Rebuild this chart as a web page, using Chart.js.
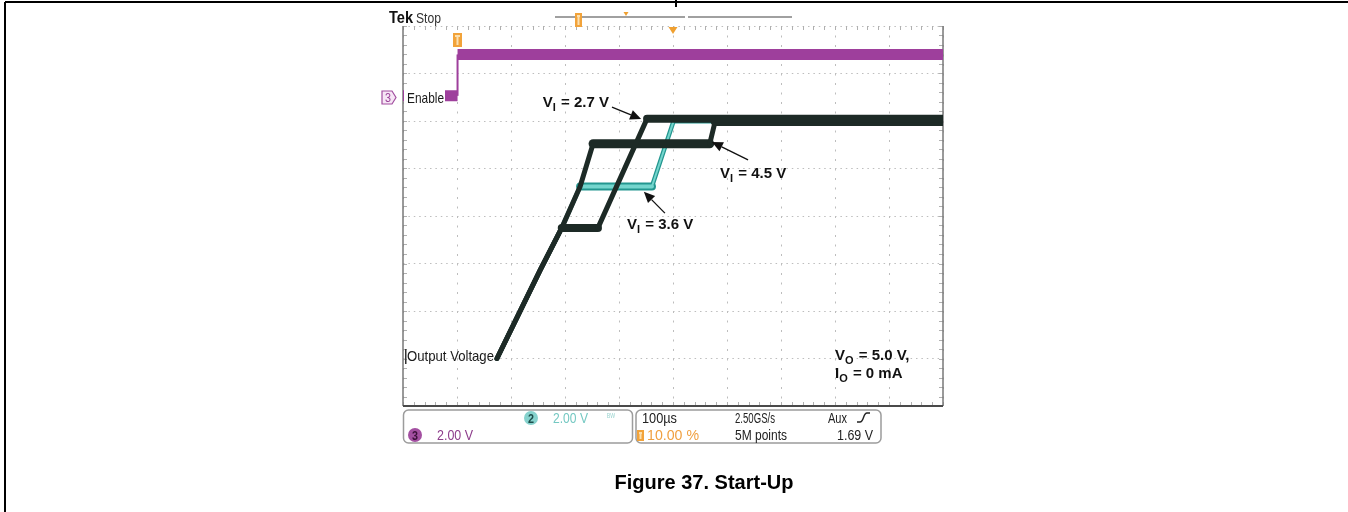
<!DOCTYPE html>
<html lang="en">
<head>
<meta charset="utf-8">
<title>Figure 37. Start-Up</title>
<script src="https://cdn.jsdelivr.net/npm/chart.js@4.4.1/dist/chart.umd.min.js"></script>
<style>
  html, body { margin: 0; padding: 0; background: #ffffff; }
  #myChart { display: block; }
</style>
</head>
<body>
<canvas id="myChart" width="1348" height="512"></canvas>
<script>
// Valores: tiempo en µs (100 µs/div, disparo en t = 0), tension en V
const tiempoVI27 = [74, 154, 194, 261, 352, 900];
const tensionVI27 = [0, 1.86, 2.75, 2.75, 5.05, 5.05];

const tiempoVI36 = [74, 154, 194, 228, 361, 402, 900];
const tensionVI36 = [0, 1.86, 2.75, 3.62, 3.62, 5.03, 5.03];

const tiempoVI45 = [74, 154, 194, 228, 252, 468, 478, 900];
const tensionVI45 = [0, 1.86, 2.75, 3.62, 4.52, 4.52, 4.99, 4.99];

const tiempoEnable = [-100, 1, 1, 900];
const tensionEnable = [5.53, 5.53, 6.4, 6.4];

// pantalla del osciloscopio: 10 div x 8 div
const limitesTiempo = [-100, 900];
const limitesTension = [-1, 7];

const FUENTE = '"Liberation Sans", Arial, sans-serif';

function serie(tiempos, tensiones) {
    return tiempos.map((t, i) => ({ x: t, y: tensiones[i] }));
}

// tramos planos mas gruesos (ruido) que las rampas
function anchoTramo(plano, rampa) {
    return ctx => (ctx.p0.parsed.y === ctx.p1.parsed.y ? plano : rampa);
}

function textoAjustado(ctx, texto, x, y, ancho, fuente, color) {
    ctx.save();
    ctx.font = fuente;
    ctx.fillStyle = color;
    ctx.textBaseline = "alphabetic";
    const medida = ctx.measureText(texto).width;
    ctx.translate(x, y);
    ctx.scale(ancho / medida, 1);
    ctx.fillText(texto, 0, 0);
    ctx.restore();
}

function textoSubindice(ctx, base, sub, resto, x, y) {
    ctx.save();
    ctx.fillStyle = "#111";
    ctx.textBaseline = "alphabetic";
    ctx.font = "bold 15px " + FUENTE;
    ctx.fillText(base, x, y);
    let avance = ctx.measureText(base).width;
    ctx.font = "bold 11px " + FUENTE;
    ctx.fillText(sub, x + avance, y + 4);
    avance += ctx.measureText(sub).width + 1;
    ctx.font = "bold 15px " + FUENTE;
    ctx.fillText(resto, x + avance, y);
    ctx.restore();
}

function flecha(ctx, x1, y1, x2, y2) {
    const ang = Math.atan2(y2 - y1, x2 - x1);
    const largo = 11, medio = 5;
    const c = Math.cos(ang), s = Math.sin(ang);
    ctx.save();
    ctx.strokeStyle = "#111";
    ctx.fillStyle = "#111";
    ctx.lineWidth = 1.3;
    ctx.beginPath();
    ctx.moveTo(x1, y1);
    ctx.lineTo(x2 - c * largo, y2 - s * largo);
    ctx.stroke();
    ctx.beginPath();
    ctx.moveTo(x2, y2);
    ctx.lineTo(x2 - c * largo + s * medio, y2 - s * largo - c * medio);
    ctx.lineTo(x2 - c * largo - s * medio, y2 - s * largo + c * medio);
    ctx.closePath();
    ctx.fill();
    ctx.restore();
}

function marcaDisparo(ctx, x, y, ancho, alto) {
    ctx.save();
    ctx.fillStyle = "#f2a33a";
    ctx.fillRect(x - ancho / 2, y, ancho, alto);
    ctx.fillStyle = "#fbe0b0";
    ctx.fillRect(x - 1, y + 3, 2, alto - 5);
    ctx.fillRect(x - ancho / 2 + 2, y + 2, ancho - 4, 2);
    ctx.restore();
}

function trianguloAbajo(ctx, x, y, ancho, alto, color) {
    ctx.save();
    ctx.fillStyle = color;
    ctx.beginPath();
    ctx.moveTo(x - ancho / 2, y);
    ctx.lineTo(x + ancho / 2, y);
    ctx.lineTo(x, y + alto);
    ctx.closePath();
    ctx.fill();
    ctx.restore();
}

// rotulos de las curvas (en unidades de los ejes)
const anotaciones = [
    { texto: "2.7 V", x: 159, y: 5.3, desde: [287, 5.29], hasta: [341, 5.04] },
    { texto: "4.5 V", x: 487, y: 3.8, desde: [539, 4.18], hasta: [472, 4.56] },
    { texto: "3.6 V", x: 315, y: 2.73, desde: [385, 3.06], hasta: [346, 3.51] }
];

const marcoOsciloscopio = {
    id: "marcoOsciloscopio",
    beforeDraw(chart) {
        const ctx = chart.ctx;
        ctx.save();
        ctx.strokeStyle = "#000";
        ctx.lineWidth = 2;
        ctx.beginPath();
        ctx.moveTo(5, 2); ctx.lineTo(chart.width, 2);
        ctx.moveTo(5, 2); ctx.lineTo(5, chart.height);
        ctx.moveTo(676, 0); ctx.lineTo(676, 7);
        ctx.stroke();
        ctx.restore();
    },
    beforeDatasetsDraw(chart) {
        const { ctx, chartArea: a, scales: { x, y } } = chart;
        ctx.save();
        // marcas menores sobre los bordes
        ctx.strokeStyle = "#b0b0b0";
        ctx.lineWidth = 1;
        ctx.beginPath();
        for (let t = limitesTiempo[0]; t <= limitesTiempo[1]; t += 20) {
            const px = Math.round(x.getPixelForValue(t)) + 0.5;
            ctx.moveTo(px, a.top); ctx.lineTo(px, a.top + 4);
            ctx.moveTo(px, a.bottom); ctx.lineTo(px, a.bottom - 4);
        }
        for (let v = limitesTension[0]; v <= limitesTension[1] + 0.01; v += 0.2) {
            const py = Math.round(y.getPixelForValue(v)) + 0.5;
            ctx.moveTo(a.left, py); ctx.lineTo(a.left + 4, py);
            ctx.moveTo(a.right, py); ctx.lineTo(a.right - 4, py);
        }
        ctx.stroke();
        // bordes
        ctx.strokeStyle = "#7a7a7a";
        ctx.lineWidth = 1.5;
        ctx.beginPath();
        ctx.moveTo(a.left, a.top); ctx.lineTo(a.left, a.bottom);
        ctx.moveTo(a.right, a.top); ctx.lineTo(a.right, a.bottom);
        ctx.stroke();
        ctx.strokeStyle = "#4a4a4a";
        ctx.lineWidth = 2;
        ctx.beginPath();
        ctx.moveTo(a.left, a.bottom); ctx.lineTo(a.right, a.bottom);
        ctx.stroke();
        ctx.restore();
    },
    afterDatasetsDraw(chart) {
        const { ctx, chartArea: a, scales: { x, y } } = chart;
        const L = a.left, T = a.top;

        // canal 3: Enable
        ctx.save();
        ctx.fillStyle = "#ffffff";
        ctx.fillRect(L + 1, T + 62, 41, 18);
        ctx.fillStyle = "#f6e6f5";
        ctx.strokeStyle = "#a24ea0";
        ctx.lineWidth = 1.2;
        ctx.beginPath();
        ctx.moveTo(L - 21, T + 65);
        ctx.lineTo(L - 11, T + 65);
        ctx.lineTo(L - 7, T + 71.5);
        ctx.lineTo(L - 11, T + 78);
        ctx.lineTo(L - 21, T + 78);
        ctx.closePath();
        ctx.fill();
        ctx.stroke();
        ctx.restore();
        textoAjustado(ctx, "3", L - 18, T + 76, 6, "12px " + FUENTE, "#9a3f98");
        textoAjustado(ctx, "Enable", L + 4, T + 77, 37, "15px " + FUENTE, "#1a1a1a");

        // Output Voltage
        ctx.save();
        ctx.fillStyle = "#333";
        ctx.fillRect(L + 2, T + 323, 1.5, 15);
        ctx.restore();
        textoAjustado(ctx, "Output Voltage", L + 4, T + 335, 87, "15px " + FUENTE, "#1a1a1a");

        // marca de disparo en t = 0 y posicion horizontal
        marcaDisparo(ctx, x.getPixelForValue(0) + 0.5, T + 7, 9, 14);
        trianguloAbajo(ctx, L + 270, T + 1, 9, 7, "#f0a030");

        // rotulos V_I
        anotaciones.forEach(n => {
            textoSubindice(ctx, "V", "I", " = " + n.texto, x.getPixelForValue(n.x), y.getPixelForValue(n.y));
            flecha(ctx, x.getPixelForValue(n.desde[0]), y.getPixelForValue(n.desde[1]),
                x.getPixelForValue(n.hasta[0]), y.getPixelForValue(n.hasta[1]));
        });
        textoSubindice(ctx, "V", "O", " = 5.0 V,", x.getPixelForValue(700), y.getPixelForValue(-0.03));
        textoSubindice(ctx, "I", "O", " = 0 mA", x.getPixelForValue(700), y.getPixelForValue(-0.41));
    },
    afterDraw(chart) {
        const { ctx, chartArea: a } = chart;
        const L = a.left, T = a.top, B = a.bottom;

        // encabezado
        textoAjustado(ctx, "Tek", L - 14, T - 3, 24, "bold 16px " + FUENTE, "#111");
        textoAjustado(ctx, "Stop", L + 13, T - 3, 25, "15px " + FUENTE, "#333");
        ctx.save();
        ctx.strokeStyle = "#a0a0a0";
        ctx.lineWidth = 2;
        ctx.beginPath();
        ctx.moveTo(L + 152, T - 9); ctx.lineTo(L + 282, T - 9);
        ctx.moveTo(L + 285, T - 9); ctx.lineTo(L + 389, T - 9);
        ctx.stroke();
        ctx.restore();
        marcaDisparo(ctx, L + 175.5, T - 13, 7, 14);
        trianguloAbajo(ctx, L + 223, T - 14, 5, 4, "#f0a030");

        // paneles inferiores
        ctx.save();
        ctx.strokeStyle = "#9c9c9c";
        ctx.fillStyle = "#ffffff";
        ctx.lineWidth = 1.5;
        ctx.beginPath();
        ctx.roundRect(L + 0.5, B + 4, 229, 33, 5);
        ctx.fill();
        ctx.stroke();
        ctx.beginPath();
        ctx.roundRect(L + 233, B + 4, 245, 33, 5);
        ctx.fill();
        ctx.stroke();

        ctx.fillStyle = "#86d2cd";
        ctx.beginPath(); ctx.arc(L + 128, B + 12, 7, 0, Math.PI * 2); ctx.fill();
        ctx.fillStyle = "#a34fa1";
        ctx.beginPath(); ctx.arc(L + 12, B + 29, 7, 0, Math.PI * 2); ctx.fill();
        ctx.restore();
        textoAjustado(ctx, "2", L + 125, B + 16.5, 6, "bold 12px " + FUENTE, "#1d4e4b");
        textoAjustado(ctx, "3", L + 9, B + 33.5, 6, "bold 12px " + FUENTE, "#3b103a");
        textoAjustado(ctx, "2.00 V", L + 150, B + 17, 35, "15px " + FUENTE, "#74c8c2");
        textoAjustado(ctx, "\u1D2E\u1D42", L + 204, B + 14, 8, "9px " + FUENTE, "#9fd6d2");
        textoAjustado(ctx, "2.00 V", L + 34, B + 34, 36, "15px " + FUENTE, "#8d3d8b");

        textoAjustado(ctx, "100\u00B5s", L + 239, B + 17, 35, "15px " + FUENTE, "#222");
        textoAjustado(ctx, "2.50GS/s", L + 332, B + 17, 40, "15px " + FUENTE, "#222");
        textoAjustado(ctx, "Aux", L + 425, B + 17, 19, "15px " + FUENTE, "#222");
        ctx.save();
        ctx.strokeStyle = "#222";
        ctx.lineWidth = 1.4;
        ctx.beginPath();
        ctx.moveTo(L + 454, B + 16);
        ctx.lineTo(L + 457, B + 16);
        ctx.bezierCurveTo(L + 461, B + 16, L + 460, B + 7, L + 464, B + 7);
        ctx.lineTo(L + 467, B + 7);
        ctx.stroke();
        ctx.restore();
        marcaDisparo(ctx, L + 237.5, B + 24, 7, 11);
        textoAjustado(ctx, "10.00 %", L + 244, B + 34, 52, "14px " + FUENTE, "#f0a040");
        textoAjustado(ctx, "5M points", L + 332, B + 34, 52, "15px " + FUENTE, "#222");
        textoAjustado(ctx, "1.69 V", L + 434, B + 34, 36, "15px " + FUENTE, "#222");

        // pie de figura
        ctx.save();
        ctx.font = "bold 20px " + FUENTE;
        ctx.fillStyle = "#000";
        ctx.textAlign = "center";
        ctx.fillText("Figure 37. Start-Up", 704, 489);
        ctx.restore();
    }
};

const colorTraza = "#1d2a26";

const config = {
    type: "line",
    data: {
        datasets: [
            {
                label: "VI = 2.7 V",
                data: serie(tiempoVI27, tensionVI27),
                borderColor: colorTraza,
                borderWidth: 5,
                segment: { borderWidth: anchoTramo(8, 5) },
                order: 1
            },
            {
                label: "VI = 4.5 V",
                data: serie(tiempoVI45, tensionVI45),
                borderColor: colorTraza,
                borderWidth: 5,
                segment: { borderWidth: anchoTramo(9, 5) },
                order: 1
            },
            {
                label: "VI = 3.6 V",
                data: serie(tiempoVI36, tensionVI36),
                borderColor: "#74d5cd",
                borderWidth: 3,
                segment: { borderWidth: anchoTramo(4, 2) },
                order: 2
            },
            {
                label: "VI = 3.6 V borde",
                data: serie(tiempoVI36, tensionVI36),
                borderColor: "#23968f",
                borderWidth: 5,
                segment: { borderWidth: anchoTramo(8, 4.5) },
                order: 3
            },
            {
                label: "Enable",
                data: serie(tiempoEnable, tensionEnable),
                borderColor: "#9e3f9c",
                borderWidth: 11,
                segment: { borderWidth: ctx => (ctx.p0.parsed.x === ctx.p1.parsed.x ? 2 : 11) },
                borderCapStyle: "butt",
                order: 1
            }
        ]
    },
    options: {
        responsive: false,
        animation: false,
        events: [],
        layout: { padding: { left: 403, right: 405, top: 26, bottom: 106 } },
        plugins: {
            legend: { display: false },
            tooltip: { enabled: false },
            title: { display: false }
        },
        elements: {
            point: { radius: 0 },
            line: { tension: 0, borderJoinStyle: "round", borderCapStyle: "round" }
        },
        scales: {
            x: {
                type: "linear",
                min: limitesTiempo[0],
                max: limitesTiempo[1],
                ticks: { display: false, stepSize: 100 },
                grid: { color: "#bdbdbd", lineWidth: 1, drawTicks: false },
                border: { display: false, dash: [2, 7.5] }
            },
            y: {
                type: "linear",
                min: limitesTension[0],
                max: limitesTension[1],
                ticks: { display: false, stepSize: 1 },
                grid: { color: "#bdbdbd", lineWidth: 1, drawTicks: false },
                border: { display: false, dash: [1.5, 3.9] }
            }
        }
    },
    plugins: [marcoOsciloscopio]
};

let myChart;

document.addEventListener("DOMContentLoaded", function() {
    const myChartElement = document.getElementById("myChart");
    myChart = new Chart(myChartElement, config);
});
</script>
</body>
</html>
